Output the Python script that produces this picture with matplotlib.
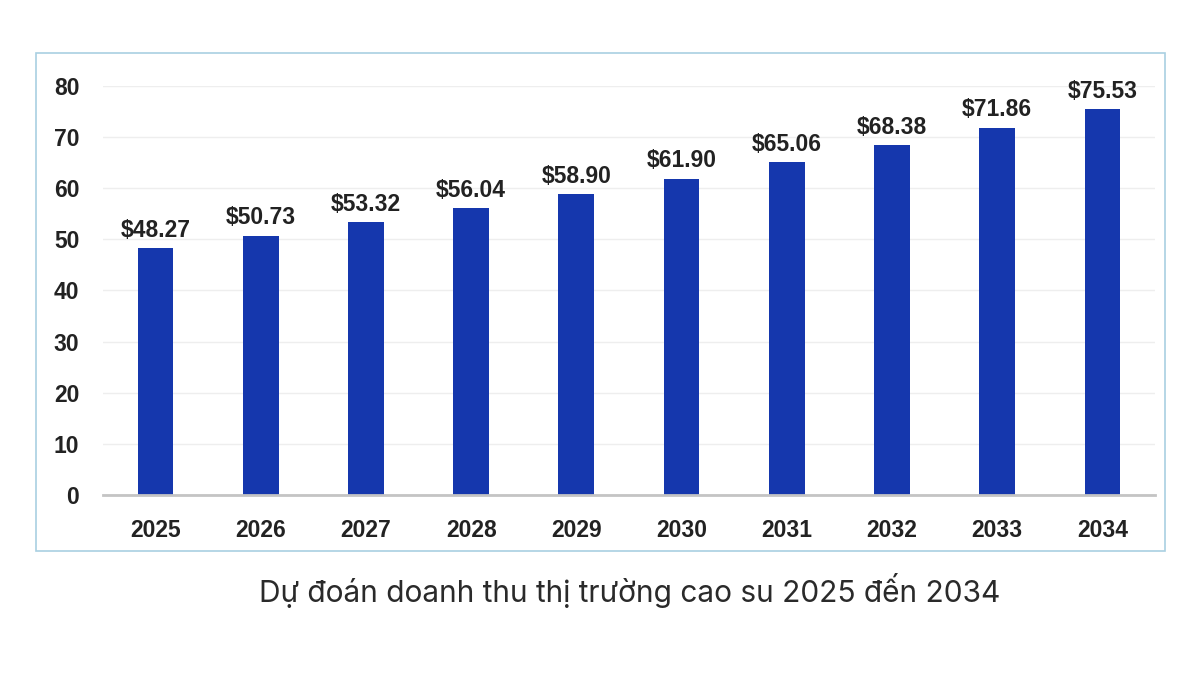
import matplotlib.pyplot as plt
from matplotlib.patches import Rectangle

years = ["2025", "2026", "2027", "2028", "2029", "2030", "2031", "2032", "2033", "2034"]
revenue = [48.27, 50.73, 53.32, 56.04, 58.90, 61.90, 65.06, 68.38, 71.86, 75.53]
y_ticks = [0, 10, 20, 30, 40, 50, 60, 70, 80]
caption = "Dự đoán doanh thu thị trường cao su 2025 đến 2034"

bar_color = "#1537ad"
text_color = "#222222"

fig = plt.figure(figsize=(12, 6.75), dpi=100)
fig.patch.set_facecolor("white")

# light blue frame around the chart
frame = Rectangle((0.03, 0.1837), 0.9408, 0.7378, transform=fig.transFigure,
                  facecolor="none", edgecolor="#a9d0e2", linewidth=1.2)
fig.patches.append(frame)

ax = fig.add_axes([0.0858, 0.2667, 0.8767, 0.6059])
x = range(len(years))
bars = ax.bar(x, revenue, width=0.34, color=bar_color, zorder=3)

for b, v in zip(bars, revenue):
    ax.text(b.get_x() + b.get_width() / 2, v + 1.2, f"${v:.2f}",
            ha="center", va="bottom", fontsize=16.5, fontweight="bold",
            family="Liberation Sans", color=text_color, clip_on=False)

ax.set_xlim(-0.5, len(years) - 0.5)
ax.set_ylim(0, 80)
ax.set_yticks(y_ticks)
ax.set_xticks(list(x))
ax.set_xticklabels(years)
ax.grid(axis="y", color="#eeeeee", linewidth=1, zorder=0)
ax.tick_params(axis="both", length=0, labelsize=16.5, labelcolor=text_color)
ax.tick_params(axis="y", pad=17)
ax.tick_params(axis="x", pad=17)
for lab in ax.get_xticklabels() + ax.get_yticklabels():
    lab.set_fontweight("bold")
    lab.set_family("Liberation Sans")

for side in ["top", "right", "left"]:
    ax.spines[side].set_visible(False)
ax.spines["bottom"].set_color("#c4c4c4")
ax.spines["bottom"].set_linewidth(2)
ax.spines["bottom"].set_zorder(4)

fig.text(0.525, 0.125, caption, ha="center", va="center", fontsize=21.5,
         family="Inter", fontweight="normal", color="#2a2a2a")

fig.savefig("out.png", dpi=100)
